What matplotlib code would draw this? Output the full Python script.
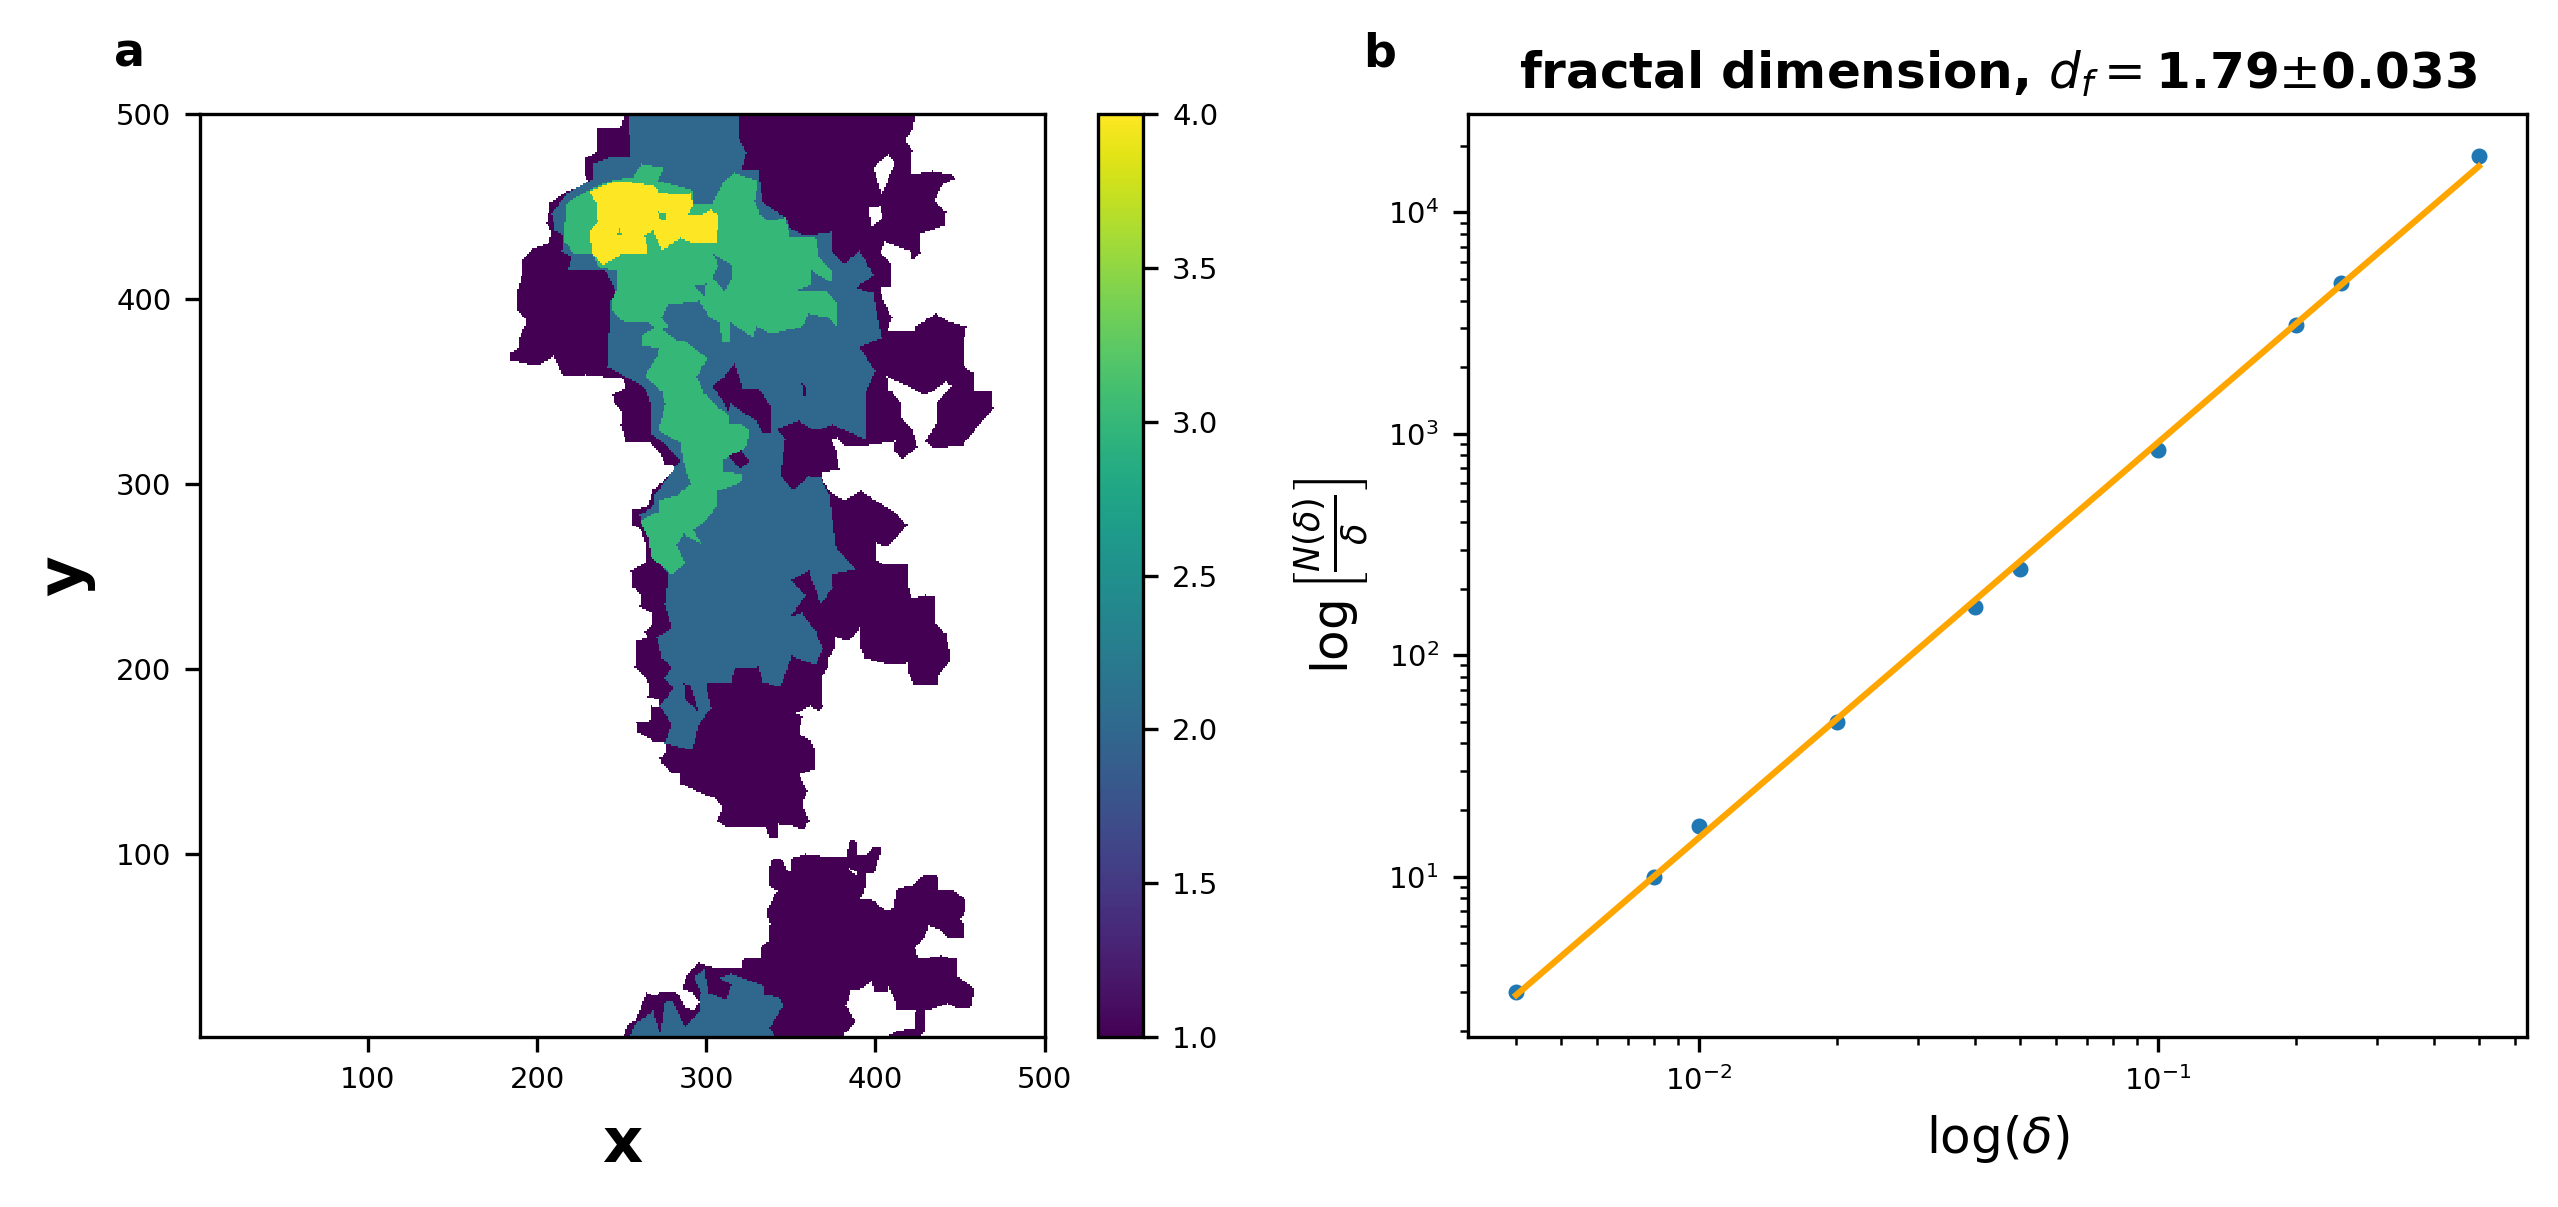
import numpy as np
import matplotlib
matplotlib.use("Agg")
import matplotlib.pyplot as plt
from matplotlib.path import Path

# panel a: cluster outlines, in x,y data units
purple_main = [(252,500),(250,493),(236,492),(235,479),(229,476),(229,467),(231,463),(218,458),(208,452),(206,441),
    (209,436),(207,430),(198,427),(192,421),(191,412),(189,405),(189,394),(194,388),(190,379),(189,373),(185,371),
    (185,367),(200,364),(210,369),(216,358),(229,359),(251,357),(253,352),(245,348),(246,344),(251,339),(250,332),
    (253,322),(268,322),(272,318),(276,311),(285,309),(278,304),(269,297),(266,288),(257,286),(257,278),(262,275),
    (265,266),(264,257),(256,253),(257,244),(262,240),(261,234),(269,230),(269,224),(264,220),(266,217),(259,215),
    (258,201),(265,195),(267,191),(266,185),(273,183),(272,179),(268,180),(267,172),(259,171),(260,166),(269,161),
    (277,160),(276,154),(273,152),(274,149),(280,144),(285,143),(285,138),(300,132),(306,130),(310,125),(307,118),
    (313,114),(336,114),(338,108),(342,109),(343,116),(352,115),(358,113),(361,118),(357,127),(360,134),(355,143),
    (364,146),(364,157),(362,161),(355,165),(357,174),(353,176),(362,180),(367,177),(369,180),(368,195),(372,201),
    (372,205),(376,211),(377,217),(385,215),(391,222),(392,211),(394,206),(410,202),(419,203),(420,198),(423,191),
    (437,191),(438,197),(444,204),(444,210),(442,219),(435,225),(435,239),(430,240),(422,238),(419,246),(419,256),
    (406,256),(400,259),(401,268),(407,266),(414,273),(419,278),(411,285),(392,296),(382,291),(374,295),(369,302),
    (368,306),(379,308),(377,318),(374,324),(378,325),(382,320),(396,321),(412,323),(412,318),(416,313),(425,320),
    (422,329),(415,337),(415,344),(410,350),(407,351),(407,358),(422,352),(430,348),(442,355),(446,353),(437,344),
    (437,334),(430,323),(435,319),(452,321),(459,329),(463,334),(470,341),(469,350),(458,350),(458,360),(453,363),
    (452,374),(454,385),(443,388),(436,392),(424,385),(424,382),(407,382),(410,390),(405,399),(403,406),(409,406),
    (409,419),(403,425),(406,431),(421,426),(422,421),(427,425),(426,435),(441,440),(442,447),(435,453),(440,462),
    (447,465),(445,467),(434,469),(422,467),(421,475),(422,480),(418,486),(422,492),(424,500)]
hole_1 = [(399,471),(408,478),(412,474),(404,456)]
hole_2 = [(396,449),(403,450),(405,444),(398,439)]

blue_main = [(254,500),(256,477),(243,476),(234,473),(234,465),(218,457),(209,446),(211,437),(216,434),(215,426),
    (221,423),(218,415),(241,415),(247,404),(244,399),(242,363),(251,359),(264,352),(267,345),(268,327),(274,323),
    (285,313),(278,304),(270,294),(269,288),(261,283),(266,273),(268,262),(278,251),(276,235),(280,222),(271,217),
    (274,206),(280,201),(276,195),(281,190),(276,183),(273,180),(280,170),(276,160),(292,156),(296,170),(303,179),
    (300,192),(315,193),(317,200),(331,201),(334,193),(344,190),(351,207),(365,202),(369,211),(365,220),(357,230),
    (350,228),(359,240),(350,248),(361,253),(363,248),(368,235),(375,244),(374,251),(388,254),(377,266),(373,294),
    (368,303),(361,304),(352,297),(344,304),(347,324),(342,330),(355,334),(365,329),(375,332),(395,324),(394,349),
    (400,361),(391,374),(404,379),(399,403),(389,406),(399,413),(391,426),(382,419),(375,425),(374,436),(359,434),
    (350,438),(347,444),(334,452),(331,469),(321,470),(324,479),(319,488),(320,500)]
purple_notch = [(304,353),(311,358),(317,365),(322,352),(332,351),(339,341),(339,327),(334,327),(330,334),(315,343),
    (313,339),(310,345)]
purple_speck = [(357,354),(360,352),(359,347),(357,348)]
purple_lobe = [(287,192),(291,191),(296,177),(288,183)]

green_upper = [(244,464),(257,466),(262,473),(275,471),(272,464),(292,459),(293,451),(304,452),(311,464),(317,468),
    (331,464),(329,453),(332,446),(337,442),(347,444),(350,434),(365,433),(367,423),(375,415),(374,409),(363,415),
    (363,408),(355,405),(372,404),(378,397),(377,385),(372,390),(361,392),(357,385),(339,381),(330,385),(328,379),
    (315,387),(314,376),(310,376),(308,387),(302,390),(296,399),(278,397),(274,390),(278,385),(272,383),(266,387),
    (251,388),(244,394),(244,399),(247,405),(247,415),(237,417),(233,424),(222,424),(216,432),(218,452),(231,459)]
blue_isle_1 = [(305,424),(315,419),(316,412),(311,404),(304,411),(307,418)]
blue_isle_2 = [(293,407),(300,408),(299,401)]

green_lower = [(262,380),(271,385),(283,378),(288,377),(301,368),(295,358),(299,349),(308,341),(313,338),(326,329),
    (324,320),(311,313),(311,307),(322,305),(321,301),(307,296),(307,289),(303,283),(297,278),(293,275),(298,267),
    (287,273),(283,267),(288,257),(280,251),(268,260),(266,271),(261,280),(272,285),(272,291),(283,294),(291,300),
    (287,311),(285,322),(272,329),(276,343),(274,350),(264,358),(271,369),(272,373),(262,375)]
blue_isle_3 = [(313,339),(323,333),(314,332)]
purple_isle = [(313,315),(321,318),(326,312),(320,308)]

yellow_core = [(231,458),(236,460),(244,463),(257,463),(270,461),(272,458),(283,456),(291,457),(293,451),(289,445),
    (298,446),(303,448),(308,445),(306,430),(293,430),(285,433),(274,426),(269,437),(264,434),(266,425),(250,424),
    (239,418),(233,424),(231,436),(236,442),(235,452)]
green_isle_1 = [(272,447),(277,446),(276,442),(273,443)]
green_isle_2 = [(249,438),(251,434),(247,434)]

purple_bottom = [(251,0),(254,8),(258,10),(261,16),(265,25),(270,23),(272,25),(283,25),(288,17),(293,15),(296,20),
    (292,25),(286,27),(289,35),(296,41),(308,38),(321,38),(322,43),(332,44),(332,49),(337,53),(338,62),(336,69),
    (339,75),(342,80),(338,82),(337,91),(339,97),(345,97),(348,92),(350,90),(351,98),(359,100),(368,99),(375,98),
    (383,98),(385,107),(389,107),(390,100),(395,99),(398,103),(404,103),(400,90),(395,89),(394,81),(392,76),(399,75),
    (407,69),(411,71),(413,81),(422,83),(428,88),(437,88),(438,80),(447,80),(454,75),(454,70),(451,65),(453,60),
    (452,54),(443,54),(438,59),(432,61),(430,56),(424,49),(426,43),(439,45),(449,43),(449,34),(459,27),(457,17),
    (449,16),(443,19),(430,15),(413,15),(412,20),(408,28),(407,25),(400,25),(398,31),(390,26),(386,26),(383,18),
    (389,9),(382,3),(382,0)]
purple_arm = [(404,0),(412,4),(423,6),(424,15),(430,15),(430,4),(426,0)]
hole_3 = [(385,92),(390,90),(390,88),(386,90)]
blue_bottom = [(255,0),(258,8),(269,15),(273,3),(276,20),(281,20),(288,6),(296,15),(297,25),(293,34),(299,37),
    (302,25),(312,21),(315,29),(308,33),(315,35),(328,31),(334,29),(335,24),(344,22),(346,18),(338,6),(342,0)]

# paint order, later ones sit on top. nan = nothing there
layers = [(1, purple_main), (np.nan, hole_1), (np.nan, hole_2), (1, purple_bottom), (1, purple_arm), (np.nan, hole_3),
    (2, blue_main), (2, blue_bottom), (1, purple_notch), (1, purple_speck), (1, purple_lobe),
    (3, green_upper), (3, green_lower), (2, blue_isle_1), (2, blue_isle_2), (2, blue_isle_3), (1, purple_isle),
    (4, yellow_core), (3, green_isle_1), (3, green_isle_2)]

# panel b
delta = [0.004, 0.008, 0.01, 0.02, 0.04, 0.05, 0.1, 0.2, 0.25, 0.5]
counts = [3, 10, 17, 50, 165, 245, 850, 3100, 4800, 18000]

W, H = 2558, 1207
fig = plt.figure(figsize=(W/300, H/300), dpi=300)

xs, ys = np.meshgrid(np.arange(1, 501), np.arange(1, 501))
pts = np.column_stack([xs.ravel(), ys.ravel()])
field = np.full(xs.size, np.nan)
for level, outline in layers:
    field[Path(outline).contains_points(pts)] = level
field = field.reshape(xs.shape)

ax = fig.add_axes([200.5/W, 1-1037/H, 844/W, 923/H])
im = ax.imshow(field, origin="lower", extent=(0.5, 500.5, 0.5, 500.5), cmap="viridis", vmin=1, vmax=4,
               aspect="auto", interpolation="nearest")
ax.set_xlim(1, 500)
ax.set_ylim(1, 500)
ax.set_xticks([100, 200, 300, 400, 500])
ax.set_yticks([100, 200, 300, 400, 500])
ax.tick_params(labelsize=7)
ax.set_xlabel("x", fontsize=15, fontweight="bold", labelpad=5)
ax.set_ylabel("y", fontsize=15, fontweight="bold", labelpad=5)

cax = fig.add_axes([1098/W, 1-1037/H, 45/W, 923/H])
cb = fig.colorbar(im, cax=cax, ticks=[1, 1.5, 2, 2.5, 3, 3.5, 4])
cb.ax.tick_params(labelsize=7)

ax2 = fig.add_axes([1468/W, 1-1037/H, 1059/W, 923/H])
ax2.scatter(delta, counts, s=8)
slope, icpt = np.polyfit(np.log10(delta), np.log10(counts), 1)
ax2.plot(delta, 10**(slope*np.log10(delta)+icpt), color="orange", lw=1.5)
ax2.set_xscale("log")
ax2.set_yscale("log")
ax2.tick_params(labelsize=7)
ax2.set_xlabel(r"$\log(\delta)$", fontsize=12)
ax2.set_ylabel(r"$\log\left[\frac{N(\delta)}{\delta}\right]$", fontsize=12)
ax2.set_title(r"fractal dimension, $d_f=$1.79$\pm$0.033", fontsize=12, fontweight="bold", pad=6)

fig.text(130/W, 1-54/H, "a", fontsize=11, fontweight="bold", ha="center", va="center")
fig.text(1380/W, 1-54/H, "b", fontsize=11, fontweight="bold", ha="center", va="center")

fig.savefig("out.png", dpi=300)
